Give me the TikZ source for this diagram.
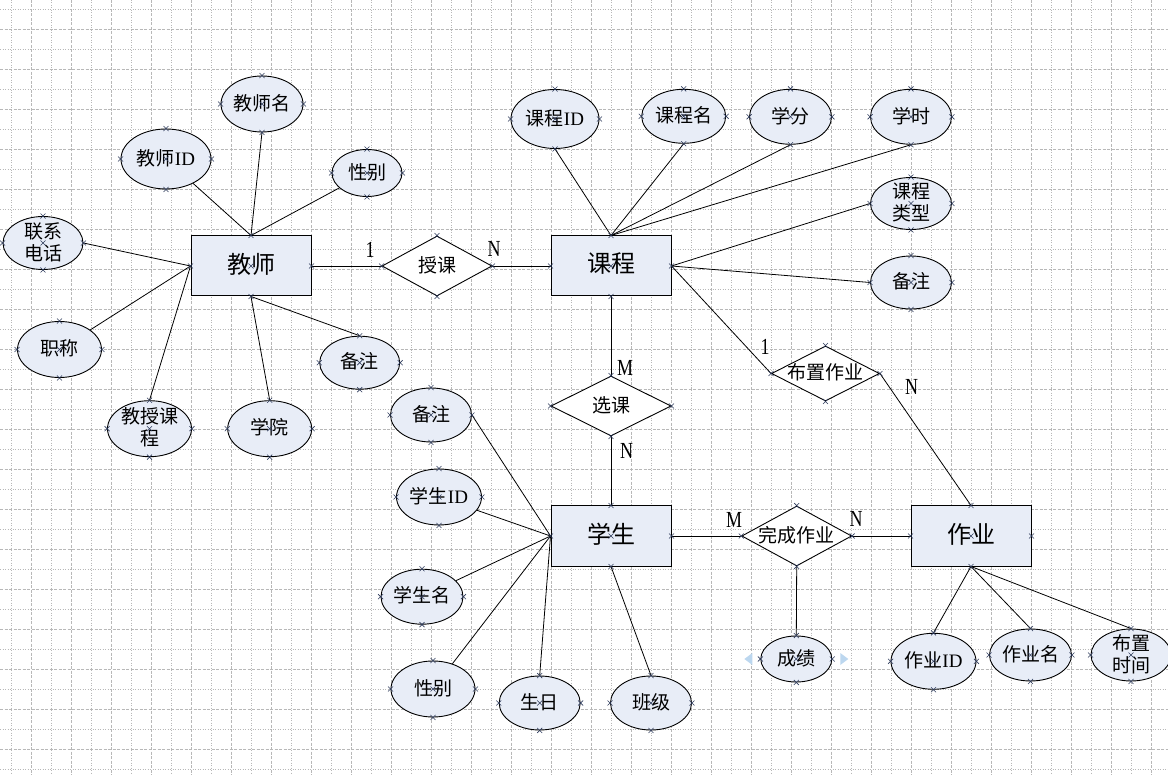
\documentclass[tikz,border=0pt]{standalone}
\usepackage{fontspec}
\usetikzlibrary{shapes.geometric}
\newfontfamily\cjk{Noto Sans CJK SC}
\newfontfamily\lser{Liberation Serif}
\definecolor{boxfill}{HTML}{E8EDF7}
\definecolor{gridc}{HTML}{B8B8B8}
\definecolor{markc}{HTML}{2E3B5C}
\definecolor{handlec}{HTML}{BCD7EF}
% centred label whose box does not grow the shape around it
\newcommand\tx[1]{\makebox[0pt]{\raisebox{-0.3em}[0pt][0pt]{\begin{tabular}{@{}c@{}}#1\end{tabular}}}}
\newcommand\lat[1]{{\lser #1}}
\newcommand\nar[1]{\scalebox{0.78}[1]{#1}}
\tikzset{
  ent/.style={rectangle, draw=black, line width=1pt, fill=boxfill,
    minimum width=120pt, minimum height=60pt, inner sep=0pt,
    font=\cjk\fontsize{24}{26}\selectfont},
  attr/.style 2 args={ellipse, draw=black, line width=0.9pt, fill=boxfill,
    minimum width=#1pt, minimum height=#2pt, inner sep=0pt,
    font=\cjk\fontsize{19}{21}\selectfont},
  rel/.style 2 args={diamond, draw=black, line width=0.9pt, fill=white,
    minimum width=#1pt, minimum height=#2pt, inner sep=0pt,
    font=\cjk\fontsize{19}{21}\selectfont},
  link/.style={draw=black, line width=0.8pt},
  card/.style={inner sep=0pt, font=\lser\fontsize{23}{25}\selectfont},
  cp/.pic={\draw[markc, line width=0.6pt] (-2.5pt,-2.5pt) -- (2.5pt,2.5pt) (-2.5pt,2.5pt) -- (2.5pt,-2.5pt);},
}
% connection-point crosses on a shape
\newcommand\cpts[2]{\foreach \an in {#2} {\pic at (#1.\an) {cp};}}

\begin{document}
\begin{tikzpicture}[x=1pt, y=-1pt]
  \useasboundingbox (0,0) rectangle (1168,775);
  \fill[white] (0,0) rectangle (1168,775);

  % drawing-page grid
  \foreach \i in {0,...,58} {
    \pgfmathsetmacro\gx{11.7+20*\i}
    \ifodd\i
      \draw[gridc, line width=0.6pt, dash pattern=on 3pt off 1.5pt] (\gx,0) -- (\gx,775);
    \else
      \draw[gridc, line width=0.6pt, dash pattern=on 1pt off 1.5pt] (\gx,0) -- (\gx,775);
    \fi
  }
  \foreach \i in {0,...,38} {
    \pgfmathsetmacro\gy{9.3+20*\i}
    \ifodd\i
      \draw[gridc, line width=0.6pt, dash pattern=on 3pt off 1.5pt] (0,\gy) -- (1168,\gy);
    \else
      \draw[gridc, line width=0.6pt, dash pattern=on 1pt off 1.5pt] (0,\gy) -- (1168,\gy);
    \fi
  }

  % entities
  \node[ent] (t) at (251,266) {\tx{教师}};
  \node[ent] (c) at (611,266) {\tx{课程}};
  \node[ent] (s) at (611,536) {\tx{学生}};
  \node[ent] (h) at (971,536) {\tx{作业}};

  % relationships
  \node[rel={110}{60}] (teach) at (437,266) {\tx{授课}};
  \node[rel={120}{60}] (choose) at (611,406) {\tx{选课}};
  \node[rel={108}{55}] (assign) at (825.5,373.5) {\tx{布置作业}};
  \node[rel={110}{60}] (finish) at (796.7,536) {\tx{完成作业}};

  % teacher attributes
  \node[attr={82}{56}] (tname) at (262,104) {\tx{教师名}};
  \node[attr={90}{60}] (tid) at (166,159) {\tx{教师\lat{ID}}};
  \node[attr={70}{47}] (tsex) at (367,173) {\tx{性别}};
  \node[attr={80}{53}] (ttel) at (43,243) {\tx{联系\\电话}};
  \node[attr={84}{56}] (ttitle) at (59.5,349.5) {\tx{职称}};
  \node[attr={84}{56}] (tcourse) at (149.5,428.7) {\tx{教授课\\程}};
  \node[attr={84}{56}] (tcol) at (269.7,428.7) {\tx{学院}};
  \node[attr={80}{53}] (tnote) at (359.7,362.7) {\tx{备注}};

  % course attributes
  \node[attr={88}{59}] (cid) at (555,119) {\tx{课程\lat{ID}}};
  \node[attr={84}{54}] (cname) at (683.7,116.3) {\tx{课程名}};
  \node[attr={82}{55}] (ccredit) at (790.5,116.8) {\tx{学分}};
  \node[attr={81}{55}] (chour) at (911,116.8) {\tx{学时}};
  \node[attr={81}{52}] (ctype) at (911,203.5) {\tx{课程\\类型}};
  \node[attr={81}{53}] (cnote) at (911,282.5) {\tx{备注}};

  % student attributes
  \node[attr={81}{54}] (snote) at (431,415) {\tx{备注}};
  \node[attr={85}{56}] (sid) at (439,497) {\tx{学生\lat{ID}}};
  \node[attr={82}{55}] (sname) at (422,596.7) {\tx{学生名}};
  \node[attr={84}{56}] (ssex) at (433,689) {\tx{性别}};
  \node[attr={81}{54}] (sbirth) at (539.7,703) {\tx{生日}};
  \node[attr={81}{54}] (sclass) at (651,703) {\tx{班级}};

  % homework attributes and the grade of a finished homework
  \node[attr={71}{46}] (score) at (796.3,659) {\tx{成绩}};
  \node[attr={85}{56}] (hid) at (933.5,661.3) {\tx{作业\lat{ID}}};
  \node[attr={82}{52}] (hname) at (1030.5,655) {\tx{作业名}};
  \node[attr={80}{52}] (htime) at (1131,655) {\tx{布置\\时间}};

  % selection handles beside the grade
  \fill[handlec] ([xshift=-12pt]score.west) ++(-4pt,0) -- ++(8pt,-6pt) -- ++(0,12pt) -- cycle;
  \fill[handlec] ([xshift=12pt]score.east) ++(4pt,0) -- ++(-8pt,-6pt) -- ++(0,12pt) -- cycle;

  % teacher links
  \draw[link] (t.north) -- (tid);
  \draw[link] (t.north) -- (tname.south);
  \draw[link] (t.north) -- (tsex);
  \draw[link] (t.west) -- (ttel.east);
  \draw[link] (t.west) -- (ttitle);
  \draw[link] (t.west) -- (tcourse.north);
  \draw[link] (t.south) -- (tcol.north);
  \draw[link] (t.south) -- (tnote.north);

  % course links
  \draw[link] (c.north) -- (cid.south);
  \draw[link] (c.north) -- (cname.south);
  \draw[link] (c.north) -- (ccredit.south);
  \draw[link] (c.north) -- (chour.south);
  \draw[link] (c.east) -- (ctype.west);
  \draw[link] (c.east) -- (cnote.west);

  % student links
  \draw[link] (s.west) -- (snote.east);
  \draw[link] (s.west) -- (sid);
  \draw[link] (s.west) -- (sname);
  \draw[link] (s.west) -- (ssex);
  \draw[link] (s.west) -- (sbirth.north);
  \draw[link] (s.south) -- (sclass.north);

  % homework links
  \draw[link] (h.south) -- (hid.north);
  \draw[link] (h.south) -- (hname.north);
  \draw[link] (h.south) -- (htime.north);
  \draw[link] (finish.south) -- (score.north);

  % relationship links
  \draw[link] (t.east) -- (teach.west);
  \draw[link] (teach.east) -- (c.west);
  \draw[link] (c.south) -- (choose.north);
  \draw[link] (choose.south) -- (s.north);
  \draw[link] (c.east) -- (assign.west);
  \draw[link] (assign.east) -- (h.north);
  \draw[link] (s.east) -- (finish.west);
  \draw[link] (finish.east) -- (h.west);

  % cardinalities
  \node[card] (k1) at (370,250) {\nar{1}};
  \node[card] (k2) at (494,249) {\nar{N}};
  \node[card] (k3) at (625,367.7) {\nar{M}};
  \node[card] (k4) at (626.7,450.7) {\nar{N}};
  \node[card] (k5) at (765,346.7) {\nar{1}};
  \node[card] (k6) at (911.7,386.7) {\nar{N}};
  \node[card] (k7) at (734,520) {\nar{M}};
  \node[card] (k8) at (856,519.3) {\nar{N}};

  % connection points
  \foreach \n in {t,c,s,h,tname,tid,tsex,ttel,ttitle,tcourse,tcol,tnote,
                  cid,cname,ccredit,chour,ctype,cnote,
                  snote,sid,sname,ssex,sbirth,sclass,score,hid,hname,htime}
    {\cpts{\n}{north,south,east,west,center}}
  \foreach \n in {teach,choose,assign,finish}
    {\cpts{\n}{north,south,east,west}}
\end{tikzpicture}
\end{document}
